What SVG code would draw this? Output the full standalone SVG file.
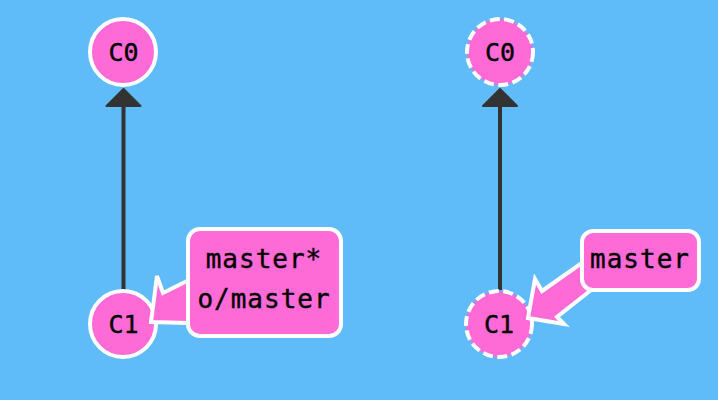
<svg xmlns="http://www.w3.org/2000/svg" width="718" height="400" viewBox="0 0 718 400">
  <style>
    .commit circle { fill: #ff6bd6; stroke: #ffffff; stroke-width: 4; }
    .commit.ghost circle { stroke-dasharray: 10 4.5; }
    .commit text { font-family: "DejaVu Sans Mono", "Liberation Mono", monospace; font-size: 25px; fill: #000; stroke: #000; stroke-width: 0.4; text-anchor: middle; }
    .edge line { stroke: #333333; stroke-width: 4; }
    .edge polygon { fill: #333333; stroke: #333333; stroke-width: 2; stroke-linejoin: round; }
    .branch .pointer { fill: #ff6bd6; stroke: #ffffff; stroke-width: 4; stroke-linejoin: miter; }
    .branch rect { fill: #ff6bd6; stroke: #ffffff; stroke-width: 4; }
    .branch text { font-family: "DejaVu Sans Mono", "Liberation Mono", monospace; font-size: 26px; letter-spacing: 1px; fill: #000; stroke: #000; stroke-width: 0.4; text-anchor: middle; }
  </style>
  <rect width="718" height="400" fill="#5fbcf9"/>

  <!-- parent edges -->
  <g id="connectors">
    <g class="edge">
      <line x1="123.5" y1="290" x2="123.5" y2="104"/>
      <polygon points="123.5,89 106.5,106 140.5,106"/>
    </g>
    <g class="edge">
      <line x1="500" y1="290" x2="500" y2="104"/>
      <polygon points="500,89 483,106 517,106"/>
    </g>
  </g>

  <!-- left history -->
  <g id="c0-left" class="commit">
    <circle cx="123" cy="52" r="33"/>
    <text x="123.5" y="61">C0</text>
  </g>
  <g id="c1-left" class="commit">
    <circle cx="123" cy="324" r="33"/>
    <text x="123.5" y="333">C1</text>
  </g>
  <g id="branch-left" class="branch">
    <polygon class="pointer" points="205,272 163,293 157,276 151,322 188,323 205,318"/>
    <rect x="188" y="229" width="153" height="107" rx="12"/>
    <text x="264" y="268">master*</text>
    <text x="264" y="308">o/master</text>
  </g>

  <!-- right history -->
  <g id="c0-right" class="commit ghost">
    <circle cx="500" cy="52" r="33"/>
    <text x="500" y="61">C0</text>
  </g>
  <g id="c1-right" class="commit ghost">
    <circle cx="499" cy="324" r="33"/>
    <text x="499" y="333">C1</text>
  </g>
  <g id="branch-right" class="branch">
    <polygon class="pointer" points="596,253 542,291 535,279 528,318 564,324 557,317 600,283"/>
    <rect x="582" y="231" width="117" height="59" rx="11"/>
    <text x="640" y="268">master</text>
  </g>
</svg>
